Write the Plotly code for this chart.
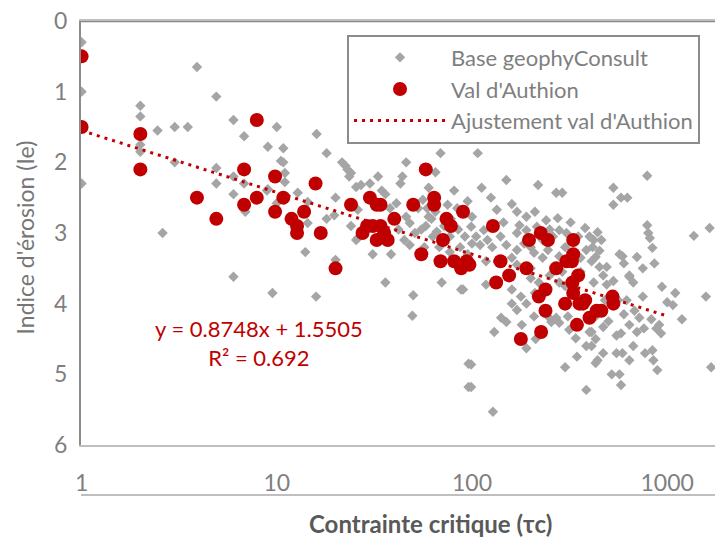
import math
import plotly.graph_objects as go

# Palette
RED = "#C00000"
GREY_PT = "#A5A5A5"
AXIS = "#8C8C8C"
LIGHT = "#BFBFBF"
TXT = "#7F7F7F"
FONT = "Lato"

# Val d'Authion (red circles)
val_tc = [1, 1, 2, 2, 3.9, 4.9, 6.8, 6.8, 7.9, 7.9, 9.8, 9.8, 10.8, 11.9, 12.7, 12.7,
          13.8, 15.8, 16.8, 20, 24, 30, 32.5, 34, 29, 27.5, 31, 32.5, 34, 37, 35.5, 40,
          50, 58, 55, 64, 64, 71, 69, 74, 78, 90, 81, 88, 94, 97, 128, 133, 140, 155,
          190, 196, 225, 245, 330, 330, 305, 325, 270, 220, 238, 238, 226, 178, 300,
          327, 330, 355, 370, 345, 400, 435, 460, 525, 530, 350, 380]
val_ie = [0.5, 1.5, 1.6, 2.1, 2.5, 2.8, 2.1, 2.6, 1.4, 2.5, 2.2, 2.7, 2.5, 2.8, 2.9, 3.0,
          2.7, 2.3, 3.0, 3.5, 2.6, 2.5, 2.6, 2.6, 2.9, 3.0, 2.9, 3.1, 2.9, 3.1, 3.0, 2.8,
          2.6, 2.1, 3.3, 2.5, 2.6, 3.1, 3.4, 2.8, 2.9, 2.7, 3.4, 3.5, 3.4, 3.45, 2.9, 3.7,
          3.4, 3.6, 3.5, 3.1, 3.0, 3.1, 3.1, 3.3, 3.4, 3.4, 3.5, 3.9, 3.8, 4.1, 4.4, 4.5,
          4.0, 3.7, 3.85, 4.0, 4.0, 4.3, 4.2, 4.1, 4.1, 3.9, 4.0, 3.6, 3.95]

# Base geophyConsult (grey diamonds)
base_tc = [1, 1, 1, 3.9, 2, 2, 2, 2, 2.45, 3, 3.5, 4.9, 6, 6.8, 9, 10, 3, 4.9, 4.9, 6,
           6, 6.8, 9, 10, 10.5, 2.6, 8.9, 11, 6.9, 10.8, 10.8, 11, 11, 16, 18, 21.6,
           23, 22.5, 24, 23.5, 12.8, 14.4, 14, 18, 20, 25.5, 25.5, 6, 9.5, 15.9, 27, 30,
           34.5, 20, 14.4, 19.7, 24, 26, 26, 31, 38.5, 38, 41, 44, 46, 43, 46, 48, 51,
           48, 53, 56, 59, 60, 58, 62, 65, 65, 60, 69, 81, 78, 84, 72, 66, 77, 77, 87,
           36, 70, 88, 50, 49.5, 96, 96,
           107, 150, 112, 218, 270, 290, 160, 134, 170, 210, 190, 240, 275, 100, 99,
           115, 175, 170, 190, 215, 280, 305, 380, 420, 110, 127, 150, 170, 208, 230,
           245, 280, 385, 410, 95, 118, 170, 200, 290,
           90, 118, 130, 141, 150, 160, 170, 178, 190, 180, 190, 208, 212, 200, 220,
           245, 255, 270, 280, 310, 280, 315, 340, 385, 345, 300, 385, 430, 430, 99,
           99, 128, 410, 430,
           790, 530, 580, 625, 530, 790, 800, 815, 840, 440, 460, 415, 430, 570, 590,
           700, 860, 750, 600, 450, 490, 1370, 1650, 640,
           640, 670, 490, 530, 940, 1100, 1580, 750, 1000, 1070, 1190, 830, 910, 930,
           880, 640, 580, 470, 670, 770, 840, 470, 440, 550, 590, 640, 850, 890, 520,
           570, 580, 510, 400, 410, 1680,
           33, 36, 42, 45, 55, 57, 63, 68, 75, 85, 92, 95, 100, 105, 120, 125, 140,
           145, 160, 185, 200, 230, 250, 260, 300, 320, 350, 360, 400, 450, 470, 360,
           250, 160, 210, 300, 420, 480, 560, 620, 680, 720, 600, 500, 550, 700, 760]
base_ie = [0.3, 1.0, 2.3, 0.65, 1.2, 1.35, 1.75, 1.85, 1.55, 1.5, 1.5, 1.07, 1.4, 1.63,
           1.78, 1.5, 2.0, 2.08, 2.3, 2.2, 2.45, 2.3, 2.38, 2.58, 1.98, 3.0, 2.4, 2.53,
           2.7, 1.8, 2.0, 2.15, 2.28, 1.6, 1.87, 2.0, 2.1, 2.05, 2.15, 2.2, 2.43, 2.86,
           3.27, 2.8, 3.38, 2.35, 3.1, 3.62, 3.85, 3.9, 2.32, 2.3, 2.4, 2.5, 2.56, 2.75,
           2.9, 2.67, 3.07, 3.3, 3.3, 2.65, 2.58, 2.2, 2.0, 2.3, 2.77, 2.86, 3.0, 3.17,
           2.65, 2.53, 2.65, 2.77, 2.9, 2.8, 2.7, 2.14, 2.36, 1.87, 2.4, 2.8, 2.65, 2.9,
           2.98, 3.05, 3.27, 3.2, 3.7, 3.7, 3.8, 3.88, 4.17, 4.85, 5.18,
           1.87, 2.25, 2.36, 2.32, 2.43, 2.43, 2.59, 2.67, 2.7, 2.7, 2.77, 2.82, 2.79,
           2.77, 2.91, 2.96, 2.89, 3.0, 2.96, 2.91, 2.96, 3.0, 2.93, 3.1, 3.17, 3.2,
           3.17, 3.24, 3.28, 3.35, 3.24, 3.33, 3.24, 3.4, 3.3, 3.4, 3.45, 3.5, 3.55,
           3.8, 3.73, 4.4, 4.2, 4.26, 4.0, 4.09, 3.9, 4.0, 4.3, 4.63, 4.18, 4.5, 3.64,
           3.7, 4.18, 4.26, 4.2, 4.27, 4.18, 3.7, 4.37, 4.49, 4.6, 4.75, 4.9, 5.22,
           4.84, 4.5, 4.86, 5.18, 5.53, 4.4, 4.18,
           2.19, 2.36, 2.5, 2.5, 2.6, 2.89, 3.0, 3.07, 3.21, 2.99, 3.1, 3.2, 3.34, 3.3,
           3.33, 3.34, 3.43, 3.5, 3.43, 3.48, 3.48, 3.04, 2.93, 3.62,
           3.6, 3.7, 3.73, 3.68, 3.76, 3.85, 3.9, 3.9, 3.98, 4.02, 4.22, 4.22, 4.3,
           4.42, 4.35, 4.3, 4.42, 4.33, 4.6, 4.7, 4.66, 4.7, 4.8, 4.7, 4.7, 4.8, 4.8,
           4.94, 5.0, 5.0, 5.15, 3.88, 4.4, 4.6, 4.9,
           2.2, 2.45, 2.95, 3.1, 2.95, 3.2, 3.05, 3.2, 2.6, 2.95, 3.05, 2.55, 3.15, 3.05,
           3.1, 2.5, 3.05, 2.85, 3.35, 3.15, 3.2, 3.1, 2.95, 3.05, 3.2, 2.85, 3.05,
           3.35, 3.05, 3.25, 3.6, 3.55, 3.6, 3.8, 3.85, 3.75, 3.7, 3.95, 3.95, 3.95,
           4.1, 4.2, 4.15, 4.25, 4.45, 4.4, 4.35]

# Trendline y = 0.8748*log10(tc) + 1.5505
SLOPE, INTERCEPT = 0.8748, 1.5505
fit_tc = [1, 1000]

x_ticks = [1, 10, 100, 1000]
y_ticks = [0, 1, 2, 3, 4, 5, 6]

fit_ie = [SLOPE * math.log10(t) + INTERCEPT for t in fit_tc]

fig = go.Figure()
fig.add_trace(go.Scatter(
    x=base_tc, y=base_ie, mode="markers", name="Base geophyConsult",
    marker=dict(symbol="diamond", size=8, color=GREY_PT),
    legendgroup="a",
))
fig.add_trace(go.Scatter(
    x=val_tc, y=val_ie, mode="markers", name="Val d'Authion",
    marker=dict(symbol="circle", size=14, color=RED),
    legendgroup="b",
))
fig.add_trace(go.Scatter(
    x=fit_tc, y=fit_ie, mode="lines", name="Ajustement val d'Authion",
    line=dict(color=RED, width=3, dash="3px,5px"),
    legendgroup="c",
))

fig.update_layout(
    width=715, height=537,
    margin=dict(l=81, r=0, t=21, b=92, autoexpand=False),
    plot_bgcolor="white", paper_bgcolor="white",
    font=dict(family=FONT, size=21, color=TXT),
    showlegend=True,
    legend=dict(
        x=0.4196, y=0.968, xanchor="left", yanchor="top",
        bordercolor=AXIS, borderwidth=2, bgcolor="white",
        font=dict(family=FONT, size=22, color=TXT),
        traceorder="grouped", tracegroupgap=0, itemwidth=92,
    ),
    annotations=[
        dict(text="y = 0.8748x + 1.5505<br>R² = 0.692", x=0.281, y=0.24,
             xref="paper", yref="paper", xanchor="center", yanchor="middle",
             showarrow=False, align="center",
             font=dict(family=FONT, size=22, color=RED)),
        dict(text="Indice d'érosion (Ie)", x=-0.088, y=0.49, xref="paper",
             yref="paper", xanchor="center", yanchor="middle",
             showarrow=False, textangle=-90,
             font=dict(family=FONT, size=23, color="#767676")),
        dict(text="<b>Contrainte critique (τc)</b>", x=0.552, y=-0.184,
             xref="paper", yref="paper", xanchor="center", yanchor="middle",
             showarrow=False,
             font=dict(family=FONT, size=24, color="#595959")),
    ],
    shapes=[
        # horizontal axis crosses at Ie = 0 (top of the reversed scale)
        dict(type="line", xref="paper", yref="y", x0=0, x1=1, y0=0, y1=0,
             layer="above", line=dict(color="#888888", width=2.5)),
        dict(type="line", xref="paper", yref="paper", x0=0, x1=1, y0=-0.118, y1=-0.118,
             line=dict(color=LIGHT, width=2)),
    ],
)
fig.update_xaxes(
    type="log", range=[-0.003, 3.245], tickvals=x_ticks,
    ticktext=[str(v) for v in x_ticks], showgrid=False, zeroline=False,
    showline=True, mirror=True, linecolor=LIGHT, linewidth=2,
    ticks="", ticklabelstandoff=16, automargin=False,
    tickfont=dict(family=FONT, size=23, color=TXT),
)
fig.update_yaxes(
    range=[6, 0], tickvals=y_ticks, showgrid=False, zeroline=False,
    showline=True, linecolor=AXIS, linewidth=2, ticks="", ticklabelstandoff=7,
    automargin=False, ticklabeloverflow="allow",
    tickfont=dict(family=FONT, size=23, color=TXT),
)

# drop the browser's default body margin so the figure sits at the page corner
fig.write_html("out.html", config={"displayModeBar": False},
               post_script="document.body.style.margin = '0';")
